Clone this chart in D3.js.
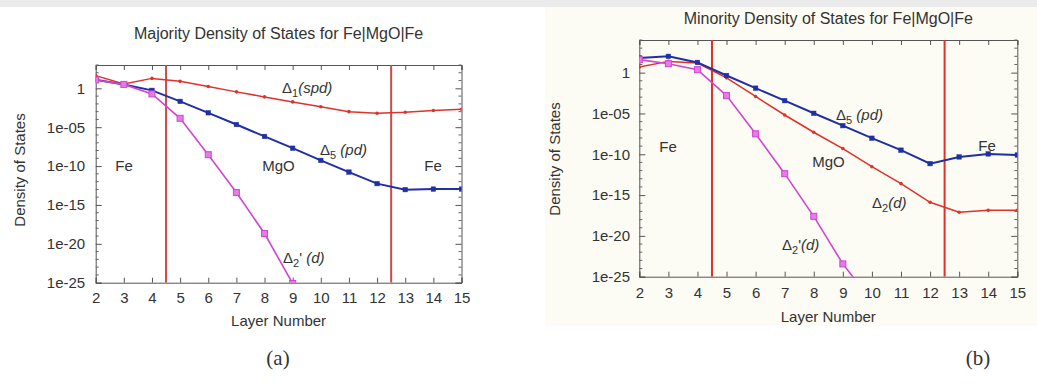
<!DOCTYPE html>
<html>
<head>
<meta charset="utf-8">
<script src="https://cdn.jsdelivr.net/npm/d3@7"></script>
<style>
  html, body { margin: 0; padding: 0; background: #ffffff; }
  svg { display: block; }
  text { font-family: "Liberation Sans", Arial, sans-serif; fill: #333; }
</style>
</head>
<body>
<svg id="chart" width="1037" height="387"></svg>
<script>
// ---------- data ----------
const layers = [2, 3, 4, 5, 6, 7, 8, 9, 10, 11, 12, 13, 14, 15];
const xTickValues = [2, 3, 4, 5, 6, 7, 8, 9, 10, 11, 12, 13, 14, 15];
const yTickValues = [1, 1e-5, 1e-10, 1e-15, 1e-20, 1e-25];
const yTickLabels = ["1", "1e-05", "1e-10", "1e-15", "1e-20", "1e-25"];
const interfaces = [4.5, 12.5];

// (a) Majority
const majDelta1 = [43, 3.6, 19, 7.9, 1.7, 0.35, 0.079, 0.018, 4.2e-3, 1.0e-3, 6.3e-4, 8.3e-4, 1.4e-3, 2.0e-3];
const majDelta5 = [12.6, 3.2, 0.55, 0.021, 7.1e-4, 2.2e-5, 6.5e-7, 2.0e-8, 5.4e-10, 1.7e-11, 5.5e-13, 9.3e-14, 1.1e-13, 1.1e-13];
const majDelta2pLayers = [2, 3, 4, 5, 6, 7, 8, 9];
const majDelta2p = [12, 3.2, 0.19, 1.4e-4, 2.9e-9, 3.9e-14, 2.1e-19, 7.9e-26];

// (b) Minority
const minDelta5 = [63, 100, 18, 0.45, 0.0126, 3.7e-4, 1.05e-5, 3.2e-7, 9.3e-9, 3.2e-10, 7.1e-12, 4.7e-11, 1.1e-10, 8.1e-11];
const minDelta2 = [4.9, 24, 15, 0.23, 1.2e-3, 6.5e-6, 5.0e-8, 5.0e-10, 3.0e-12, 2.5e-14, 1.3e-16, 7.8e-18, 1.35e-17, 1.35e-17];
const minDelta2pLayers = [2, 3, 4, 5, 6, 7, 8, 9, 10];
const minDelta2p = [39, 12.6, 2.3, 1.55e-3, 3.2e-8, 4.2e-13, 2.5e-18, 3.7e-24, 1e-28];

const titles = ["Majority Density of States for Fe|MgO|Fe", "Minority Density of States for Fe|MgO|Fe"];
const xLabel = "Layer Number";
const yLabel = "Density of States";

const RED = "#e0322c", BLUE = "#1f2fa6", MAG = "#d443d4";

const svg = d3.select("#chart");

// background pieces
svg.append("rect").attr("x", 0).attr("y", 0).attr("width", 1037).attr("height", 7).attr("fill", "#ebebeb");
svg.append("rect").attr("x", 545).attr("y", 7).attr("width", 492).attr("height", 319).attr("fill", "#fcfbf4");

function richText(g, x, y, parts, anchor) {
  const t = g.append("text").attr("x", x).attr("y", y).attr("font-size", 15)
    .attr("text-anchor", anchor || "start");
  let shift = 0;
  parts.forEach(p => {
    const ts = t.append("tspan").text(p.t);
    if (p.sub) { ts.attr("dy", 4 - shift).attr("font-size", 11); shift = 4; }
    else if (shift !== 0) { ts.attr("dy", -shift); shift = 0; }
    if (p.it) ts.attr("font-style", "italic");
  });
  return t;
}

function panel(cfg) {
  const g = svg.append("g");
  const x = d3.scaleLinear().domain([2, 15]).range([cfg.left, cfg.right]);
  const y = d3.scaleLog().domain([1e-25, cfg.yTop]).range([cfg.bottom, cfg.top]);
  const clipId = "clip" + cfg.id;
  svg.append("defs").append("clipPath").attr("id", clipId)
    .append("rect").attr("x", cfg.left).attr("y", cfg.top)
    .attr("width", cfg.right - cfg.left).attr("height", cfg.bottom - cfg.top);

  // title
  g.append("text").attr("x", (cfg.left + cfg.right) / 2).attr("y", cfg.titleY)
    .attr("text-anchor", "middle").attr("font-size", 16).text(cfg.title);

  // axes
  const axB = d3.axisBottom(x).tickValues(xTickValues).tickSize(-5).tickPadding(cfg.xPad).tickFormat(d3.format("d"));
  const axT = d3.axisTop(x).tickValues(xTickValues).tickSize(-5).tickFormat("");
  const axL = d3.axisLeft(y).tickValues(yTickValues).tickSize(-6).tickPadding(cfg.yPad)
    .tickFormat((d, i) => yTickLabels[i]);
  const axR = d3.axisRight(y).tickValues(yTickValues).tickSize(-6).tickFormat("");
  const style = sel => {
    sel.selectAll("path").attr("stroke", "#555");
    sel.selectAll("line").attr("stroke", "#555");
    sel.selectAll("text").attr("font-size", 15).attr("fill", "#2a2a2a")
      .attr("font-family", "Liberation Sans, Arial, sans-serif");
  };
  g.append("g").attr("transform", `translate(0,${cfg.bottom})`).call(axB).call(style);
  g.append("g").attr("transform", `translate(0,${cfg.top})`).call(axT).call(style);
  g.append("g").attr("transform", `translate(${cfg.left},0)`).call(axL).call(style);
  g.append("g").attr("transform", `translate(${cfg.right},0)`).call(axR).call(style);
  g.selectAll(".domain").attr("stroke-width", 1);

  // minor decade ticks
  const decades = d3.range(-25, Math.log10(cfg.yTop) + 0.5).map(e => Math.pow(10, e))
    .filter(v => !yTickValues.includes(v));
  const minor = g.append("g").attr("stroke", "#666");
  decades.forEach(v => {
    minor.append("line").attr("x1", cfg.left).attr("x2", cfg.left + 3).attr("y1", y(v)).attr("y2", y(v));
    minor.append("line").attr("x1", cfg.right).attr("x2", cfg.right - 3).attr("y1", y(v)).attr("y2", y(v));
  });

  // axis labels
  g.append("text").attr("x", (cfg.left + cfg.right) / 2).attr("y", cfg.xLabelY)
    .attr("text-anchor", "middle").attr("font-size", 15).text(xLabel);
  g.append("text").attr("transform", `translate(${cfg.yLabelX},${cfg.yLabelCY}) rotate(-90)`)
    .attr("text-anchor", "middle").attr("font-size", 15).text(yLabel);

  // interface lines
  const plot = g.append("g").attr("clip-path", `url(#${clipId})`);
  interfaces.forEach(v => {
    plot.append("line").attr("x1", x(v)).attr("x2", x(v)).attr("y1", cfg.top).attr("y2", cfg.bottom)
      .attr("stroke", cfg.ifColor).attr("stroke-width", 2);
  });

  const line = d3.line().x(d => x(d[0])).y(d => y(d[1]));
  cfg.series.forEach(s => {
    const pts = s.xs.map((xv, i) => [xv, s.ys[i]]);
    plot.append("path").datum(pts).attr("d", line).attr("fill", "none")
      .attr("stroke", s.color).attr("stroke-width", s.w);
    pts.forEach(p => {
      if (s.marker === "dot") {
        plot.append("circle").attr("cx", x(p[0])).attr("cy", y(p[1])).attr("r", 1.8).attr("fill", s.color);
      } else {
        const sz = s.marker === "big" ? 6 : 4.5;
        plot.append("rect").attr("x", x(p[0]) - sz / 2).attr("y", y(p[1]) - sz / 2)
          .attr("width", sz).attr("height", sz)
          .attr("fill", s.fill || s.color).attr("stroke", s.color).attr("stroke-width", s.marker === "big" ? 1 : 0.5);
      }
    });
  });

  cfg.notes.forEach(n => richText(g, n.x, n.y, n.parts, n.anchor));
}

panel({
  id: "a", left: 95.7, right: 461.5, top: 65, bottom: 282.7, yTop: 1e3,
  title: titles[0], titleY: 39, xPad: 9.5, yPad: 10.5, xLabelY: 326, yLabelX: 25, yLabelCY: 170,
  ifColor: "#cf4b4b",
  series: [
    { xs: layers, ys: majDelta1, color: RED, w: 1.5, marker: "dot" },
    { xs: layers, ys: majDelta5, color: BLUE, w: 2, marker: "small" },
    { xs: majDelta2pLayers, ys: majDelta2p, color: MAG, w: 1.6, marker: "big", fill: "#e37ce3" }
  ],
  notes: [
    { x: 124, y: 171, parts: [{ t: "Fe" }], anchor: "middle" },
    { x: 278.5, y: 171, parts: [{ t: "MgO" }], anchor: "middle" },
    { x: 433, y: 171, parts: [{ t: "Fe" }], anchor: "middle" },
    { x: 282, y: 93, parts: [{ t: "Δ" }, { t: "1", sub: true }, { t: "(spd)", it: true }] },
    { x: 320, y: 155, parts: [{ t: "Δ" }, { t: "5", sub: true }, { t: " (pd)", it: true }] },
    { x: 283, y: 263, parts: [{ t: "Δ" }, { t: "2", sub: true }, { t: "' " }, { t: "(d)", it: true }] }
  ]
});

panel({
  id: "b", left: 639.3, right: 1017.3, top: 40, bottom: 276.7, yTop: 1e4,
  title: titles[1], titleY: 24, xPad: 11, yPad: 9.3, xLabelY: 322, yLabelX: 560, yLabelCY: 159,
  ifColor: "#e0302a",
  series: [
    { xs: layers, ys: minDelta2, color: RED, w: 1.5, marker: "dot" },
    { xs: layers, ys: minDelta5, color: BLUE, w: 2, marker: "small" },
    { xs: minDelta2pLayers, ys: minDelta2p, color: MAG, w: 1.6, marker: "big", fill: "#e37ce3" }
  ],
  notes: [
    { x: 668, y: 152, parts: [{ t: "Fe" }], anchor: "middle" },
    { x: 828.5, y: 167, parts: [{ t: "MgO" }], anchor: "middle" },
    { x: 987, y: 151, parts: [{ t: "Fe" }], anchor: "middle" },
    { x: 836, y: 120, parts: [{ t: "Δ" }, { t: "5", sub: true }, { t: " (pd)", it: true }] },
    { x: 872, y: 208, parts: [{ t: "Δ" }, { t: "2", sub: true }, { t: "(d)", it: true }] },
    { x: 782, y: 250, parts: [{ t: "Δ" }, { t: "2", sub: true }, { t: "'" }, { t: "(d)", it: true }] }
  ]
});

// sub-figure captions
svg.append("text").attr("x", 278).attr("y", 365).attr("text-anchor", "middle")
  .style("font-family", "Liberation Serif, Times New Roman, serif").attr("font-size", 21).attr("fill", "#111").text("(a)");
svg.append("text").attr("x", 978).attr("y", 365).attr("text-anchor", "middle")
  .style("font-family", "Liberation Serif, Times New Roman, serif").attr("font-size", 21).attr("fill", "#111").text("(b)");
</script>
</body>
</html>
